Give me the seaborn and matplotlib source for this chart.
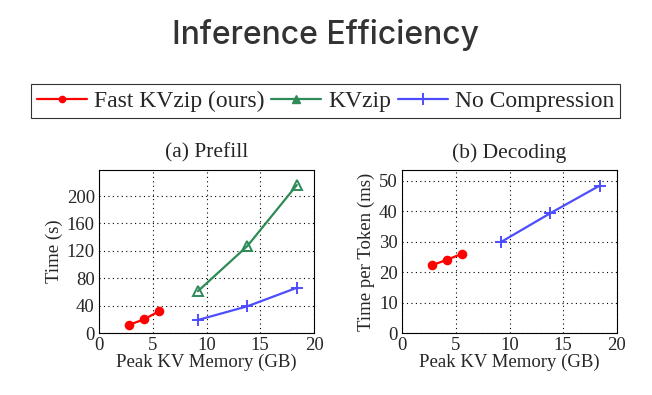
import matplotlib.pyplot as plt
import seaborn as sns
import pandas as pd
from matplotlib.lines import Line2D

# data
methods = ["Fast KVzip (ours)", "KVzip", "No Compression"]
fast_mem = [2.8, 4.2, 5.6]
full_mem = [9.2, 13.8, 18.4]
prefill_fast = [12, 20, 32]
prefill_kvzip = [61, 127, 216]
prefill_nocomp = [19, 39, 66]
decode_fast = [22.3, 24.1, 26.1]
decode_nocomp = [29.9, 39.4, 48.5]

colors = {"Fast KVzip (ours)": "#ff0000", "KVzip": "#2e8b57", "No Compression": "#4d4dff"}
markers = {"Fast KVzip (ours)": "o", "KVzip": "^", "No Compression": "+"}
msizes = {"Fast KVzip (ours)": 5.5, "KVzip": 6.5, "No Compression": 9}

prefill = pd.DataFrame({
    "mem": fast_mem + full_mem + full_mem,
    "val": prefill_fast + prefill_kvzip + prefill_nocomp,
    "method": [methods[0]] * 3 + [methods[1]] * 3 + [methods[2]] * 3,
})
decode = pd.DataFrame({
    "mem": fast_mem + full_mem,
    "val": decode_fast + decode_nocomp,
    "method": [methods[0]] * 3 + [methods[2]] * 3,
})

sns.set_style("white")
plt.rcParams["font.family"] = ["Liberation Serif", "DejaVu Serif"]

fig = plt.figure(figsize=(6.52, 3.95), dpi=100)
ax1 = fig.add_axes([99 / 652, 62 / 395, 215 / 652, 163 / 395])
ax2 = fig.add_axes([402 / 652, 62 / 395, 215 / 652, 163 / 395])


def draw(ax, df, ylim, yticks, ylabel, title):
    for m in df["method"].unique():
        sub = df[df["method"] == m]
        sns.lineplot(data=sub, x="mem", y="val", ax=ax, color=colors[m],
                     marker=markers[m], markersize=msizes[m],
                     markerfacecolor="none" if m == "KVzip" else colors[m],
                     markeredgecolor=colors[m], markeredgewidth=1.4,
                     linewidth=1.6, legend=False)
    ax.set_xlim(0, 20)
    ax.set_ylim(*ylim)
    ax.set_xticks([0, 5, 10, 15, 20])
    ax.set_yticks(yticks)
    ax.grid(True, color="black", linestyle=(0, (1, 3)), linewidth=0.8)
    for s in ax.spines.values():
        s.set_color("black")
        s.set_linewidth(0.8)
    ax.tick_params(direction="in", length=3, labelsize=13.5, color="black", pad=3)
    ax.set_xlabel("Peak KV Memory (GB)", fontsize=13.5, labelpad=0)
    ax.set_ylabel(ylabel, fontsize=13.5, labelpad=3)
    ax.set_title(title, fontsize=15.5, pad=9)


draw(ax1, prefill, (0, 238), [0, 40, 80, 120, 160, 200], "Time (s)", "(a) Prefill")
draw(ax2, decode, (0, 53.6), [0, 10, 20, 30, 40, 50], "Time per Token (ms)", "(b) Decoding")

handles = [
    Line2D([], [], color=colors[methods[0]], marker="o", markersize=4.5, linewidth=1.6),
    Line2D([], [], color=colors[methods[1]], marker="^", markersize=5.5, linewidth=1.6),
    Line2D([], [], color=colors[methods[2]], marker="+", markersize=8, markeredgewidth=1.4, linewidth=1.6),
]
leg = fig.legend(handles, methods, loc="center", bbox_to_anchor=(325.5 / 652, 1 - 101 / 395),
                 ncol=3, fontsize=17, frameon=True, fancybox=False, handlelength=2.1,
                 handletextpad=0.3, columnspacing=0.3, borderpad=0.25, edgecolor="black")
leg.get_frame().set_linewidth(0.8)

fig.text(0.5, 1 - 35 / 395, "Inference Efficiency", ha="center", va="center",
         fontsize=23, color="#333333", fontweight="medium", family=["Inter", "DejaVu Sans"])

fig.savefig("out.png", dpi=100)
